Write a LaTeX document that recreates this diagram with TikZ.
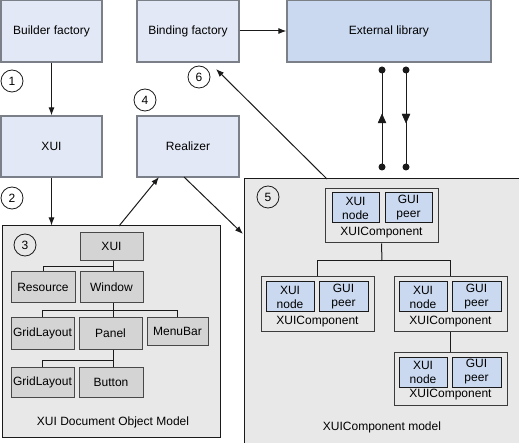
\documentclass[tikz,border=0pt]{standalone}
\usepackage{fontspec}
\setmainfont{Liberation Sans}
\usetikzlibrary{arrows.meta,calc}
\definecolor{topfill}{HTML}{E2E8F5}
\definecolor{topdraw}{HTML}{7A7F88}
\definecolor{extfill}{HTML}{CAD9F0}
\definecolor{contfill}{HTML}{E8E8E8}
\definecolor{domfill}{HTML}{D4D4D4}
\definecolor{innerfill}{HTML}{CAD9F0}
\definecolor{ln}{HTML}{1A1A1A}
\tikzset{
  x=1pt,y=-1pt,
  every node/.style={font=\fontsize{12}{14}\selectfont, inner sep=0pt},
  topbox/.style={draw=topdraw, line width=1.2pt, fill=topfill},
  extbox/.style={draw=topdraw, line width=1.2pt, fill=extfill},
  cont/.style={draw=ln, line width=1pt, fill=contfill},
  dombox/.style={draw=ln!80, line width=1pt, fill=domfill},
  compbox/.style={draw=ln!85, line width=1pt, fill=contfill},
  innerbox/.style={draw=ln, line width=1pt, fill=innerfill, align=center, font=\fontsize{12}{14}\selectfont},
  num/.style={circle, draw=ln, line width=0.8pt, minimum size=22pt},
  conn/.style={draw=ln, line width=1pt},
  arr/.style={conn, -{Latex[length=8pt,width=6pt]}},
  dot/.style={circle, fill=ln, minimum size=7pt},
}
\begin{document}
\begin{tikzpicture}
\useasboundingbox (0,0) rectangle (519,443);
\begin{scope}
\clip (0,0) rectangle (519,443);
% top boxes
\node[topbox, minimum width=101, minimum height=62] (bf) at (51.5,31) {Builder factory};
\node[topbox, minimum width=102, minimum height=62] (bind) at (188,31) {Binding factory};
\node[extbox, minimum width=204, minimum height=62] (ext) at (389,31) {External library};
\node[topbox, minimum width=101, minimum height=61] (xui) at (51.5,146.5) {XUI};
\node[topbox, minimum width=102, minimum height=61] (real) at (188,146.5) {Realizer};
% containers
\node[cont, minimum width=218, minimum height=211] (dom) at (111,331.5) {};
\node[cont, minimum width=278, minimum height=266] (model) at (383,312) {};
% DOM tree
\node[dombox, minimum width=63, minimum height=28] (dxui) at (111.5,246.5) {XUI};
\node[dombox, minimum width=64, minimum height=31] (dres) at (43,287.5) {Resource};
\node[dombox, minimum width=63, minimum height=31] (dwin) at (111.5,287.5) {Window};
\node[dombox, minimum width=63, minimum height=31] (dgl1) at (42.5,333.5) {GridLayout};
\node[dombox, minimum width=63, minimum height=31] (dpan) at (110.5,333.5) {Panel};
\node[dombox, minimum width=61, minimum height=27] (dmenu) at (177.5,331.5) {MenuBar};
\node[dombox, minimum width=63, minimum height=30] (dgl2) at (42.5,382) {GridLayout};
\node[dombox, minimum width=64, minimum height=30] (dbut) at (111,382) {Button};
\node (domlbl) at (113,422) {XUI Document Object Model};
\coordinate (j1) at (113,267);
\coordinate (j2) at (113,311);
\coordinate (j3) at (113,360);
\draw[conn] (dxui.south -| j1) -- (j1);
\draw[conn] (j1) -| (dres.north);
\draw[conn] (j1) -- (dwin.north -| j1);
\draw[conn] (dwin.south -| j2) -- (j2);
\draw[conn] (j2) -| (dgl1.north);
\draw[conn] (j2) -| (dmenu.north);
\draw[conn] (j2) -- (dpan.north -| j2);
\draw[conn] (dpan.south -| j3) -- (j3);
\draw[conn] (j3) -| (dgl2.north);
\draw[conn] (j3) -- (dbut.north -| j3);
% component model
\node[compbox, minimum width=113, minimum height=54] (c1) at (381.5,216) {};
\node[innerbox, minimum width=47, minimum height=30] (c1a) at (355.5,208) {XUI\\node};
\node[innerbox, minimum width=47, minimum height=30] (c1b) at (408.5,208) {GUI\\peer};
\node (c1l) at (381.5,232.5) {XUIComponent};
\node[compbox, minimum width=113, minimum height=55] (c2) at (317.5,304.5) {};
\node[innerbox, minimum width=48, minimum height=30] (c2a) at (290,297) {XUI\\node};
\node[innerbox, minimum width=49, minimum height=30] (c2b) at (343.5,297) {GUI\\peer};
\node (c2l) at (317.5,321.5) {XUIComponent};
\node[compbox, minimum width=113, minimum height=55] (c3) at (450.5,304.5) {};
\node[innerbox, minimum width=48, minimum height=30] (c3a) at (423,297) {XUI\\node};
\node[innerbox, minimum width=49, minimum height=30] (c3b) at (476.5,297) {GUI\\peer};
\node (c3l) at (450.5,321.5) {XUIComponent};
\node[compbox, minimum width=113, minimum height=53] (c4) at (450.5,378.5) {};
\node[innerbox, minimum width=48, minimum height=30] (c4a) at (423,372) {XUI\\node};
\node[innerbox, minimum width=49, minimum height=30] (c4b) at (476.5,372) {GUI\\peer};
\node (c4l) at (450.5,394.5) {XUIComponent};
\node (mlbl) at (382,427) {XUIComponent model};
\coordinate (k1) at (382,261);
\draw[conn] (c1.south) -- (k1);
\draw[conn] (k1) -| (c2.north);
\draw[conn] (k1) -| (c3.north);
\draw[conn] (c3.south) -- (c4.north);
% numbers
\node[num] (n1) at (12,81) {1};
\node[num] (n2) at (12,198) {2};
\node[num] (n3) at (25,245) {3};
\node[num] (n4) at (145,100) {4};
\node[num] (n5) at (268,197) {5};
\node[num] (n6) at (199,77) {6};
% arrows
\draw[arr] (bf.south) -- (xui.north);
\draw[arr] (xui.south) -- (xui.south |- dom.north);
\coordinate (a1) at (119,226);
\coordinate (a2) at (159,177);
\draw[arr] (a1) -- (a2);
\coordinate (a3) at (184,177);
\coordinate (a4) at (243,234);
\draw[arr] (a3) -- (a4);
\coordinate (a5) at (327,179);
\coordinate (a6) at (216,69);
\draw[arr] (a5) -- (a6);
\draw[arr] (bind.east) -- (ext.west);
% link lines
\node[dot] (d1) at (382,70) {};
\node[dot] (d2) at (382,167) {};
\node[dot] (d3) at (406,70) {};
\node[dot] (d4) at (406,167) {};
\draw[conn] (d2.center) -- (d1.center);
\draw[conn] (d3.center) -- (d4.center);
\draw[ln, fill=ln] (382,114) -- (386,123) -- (378,123) -- cycle;
\draw[ln, fill=ln] (406,123) -- (410,114) -- (402,114) -- cycle;
\end{scope}
\end{tikzpicture}
\end{document}
